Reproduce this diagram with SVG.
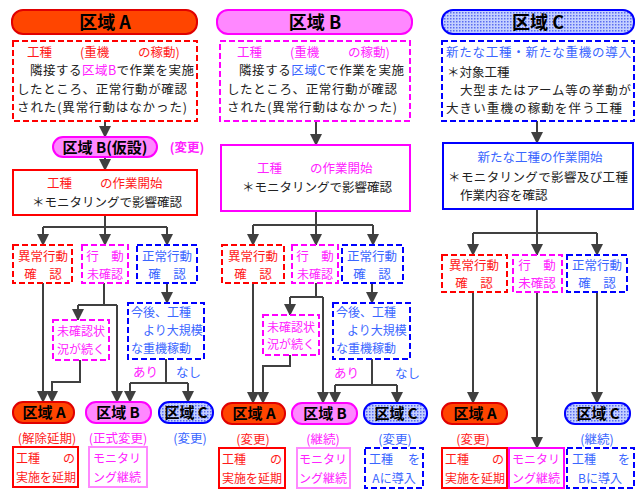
<svg xmlns="http://www.w3.org/2000/svg" width="642" height="494" viewBox="0 0 642 494">
<defs>
<marker id="ah" markerUnits="userSpaceOnUse" markerWidth="12" markerHeight="12" viewBox="0 0 12 12" refX="11" refY="6" orient="auto">
<path d="M0,0 L12,6 L0,12 Z" fill="#404040"/>
</marker>
<pattern id="dots" width="3" height="3" patternUnits="userSpaceOnUse">
<rect width="3" height="3" fill="#c4d0ff"/>
<rect width="1.5" height="1.5" fill="#5a6cf0"/>
</pattern>
<style>
text{font-family:"Noto Sans CJK JP","Noto Sans",sans-serif;font-size:12.5px;fill:#222}
.hd{font-size:18px;font-weight:bold;fill:#000}
.pl{font-size:15px;font-weight:bold;fill:#000}
.sm12{font-size:12px}
.r{fill:#ff1a1a}.m{fill:#ff22ff}.b{fill:#3a66ff}
.c{text-anchor:middle}
.dr{fill:#fff;stroke:#ff0000;stroke-width:2;stroke-dasharray:6 3}
.dm{fill:#fff;stroke:#ff00ff;stroke-width:2;stroke-dasharray:6 3}
.db{fill:#fff;stroke:#0000ff;stroke-width:2;stroke-dasharray:6 3}
.sr{fill:#fff;stroke:#ff0000;stroke-width:2}
.sm{fill:#fff;stroke:#ff00ff;stroke-width:2}
.sml{fill:#fff;stroke:#ff88ff;stroke-width:2}
.sb{fill:#fff;stroke:#0000ff;stroke-width:2}
.pA{fill:#ff4500;stroke:#e00000;stroke-width:2}
.pB{fill:#ff88ff;stroke:#ff00ff;stroke-width:2}
.pC{fill:url(#dots);stroke:#0000ff;stroke-width:2}
.cn path{fill:none;stroke:#404040;stroke-width:2}
.cn path.a{marker-end:url(#ah)}
</style>
</defs>
<rect width="642" height="494" fill="#fff"/>

<!-- connectors -->
<g id="connectors" class="cn">
<path class="a" d="M105,121 V137"/>
<path class="a" d="M105,157 V170"/>
<path d="M105,215 V227 M43,227 H167"/>
<path class="a" d="M43,227 V245"/>
<path class="a" d="M105,227 V245"/>
<path class="a" d="M167,227 V245"/>
<path class="a" d="M43,283 V402"/>
<path d="M104,283 V305 M78,305 H117"/>
<path class="a" d="M78,305 V320"/>
<path class="a" d="M117,305 V402"/>
<path class="a" d="M80,360 V382 H52 V402"/>
<path class="a" d="M167,283 V303"/>
<path d="M166,359 V383 M130,383 H188"/>
<path class="a" d="M130,383 V402"/>
<path class="a" d="M188,383 V402"/>

<path class="a" d="M316,121 V145"/>
<path d="M316,211 V225 M253,225 H373"/>
<path class="a" d="M253,225 V245"/>
<path class="a" d="M316,225 V245"/>
<path class="a" d="M373,225 V245"/>
<path class="a" d="M253,283 V403"/>
<path d="M316,283 V297 M290,297 H323"/>
<path class="a" d="M290,297 V315"/>
<path class="a" d="M323,297 V403"/>
<path class="a" d="M290,355 V366 H263 V403"/>
<path class="a" d="M372,283 V303"/>
<path d="M372,359 V385 M335,385 H397"/>
<path class="a" d="M335,385 V403"/>
<path class="a" d="M397,385 V403"/>

<path class="a" d="M537,121 V143"/>
<path d="M537,209 V233 M473,233 H597"/>
<path class="a" d="M473,233 V255"/>
<path class="a" d="M537,233 V255"/>
<path class="a" d="M597,233 V255"/>
<path class="a" d="M473,292 V403"/>
<path class="a" d="M537,292 V448"/>
<path class="a" d="M597,292 V403"/>
</g>

<!-- Column A -->
<g id="hdrA"><rect class="pA" x="12" y="10" width="185" height="24" rx="11"/><text class="hd c" x="105" y="29">区域 A</text></g>
<g id="descA"><rect class="dr" x="13" y="41" width="184" height="80"/>
<text class="r" y="57"><tspan x="27">工種</tspan><tspan x="80">(重機</tspan><tspan x="138">の稼動)</tspan></text>
<text x="30" y="75" textLength="164">隣接する<tspan class="m">区域B</tspan>で作業を実施</text>
<text x="17" y="94" textLength="170">したところ、正常行動が確認</text>
<text x="17" y="112" textLength="170">された(異常行動はなかった)</text></g>
<g id="kasetsuA"><rect class="pB" x="53" y="137" width="104" height="20" rx="10"/><text class="pl c" x="105" y="153">区域 B(仮設)</text>
<text class="m c" x="187" y="152" style="font-weight:bold">(変更)</text></g>
<g id="startA"><rect class="sr" x="13" y="170" width="184" height="45"/>
<text class="r" y="188"><tspan x="47">工種</tspan><tspan x="100">の作業開始</tspan></text>
<text class="c" x="107" y="207">＊モニタリングで影響確認</text></g>
<g id="abnA"><rect class="dr" x="13" y="245" width="59" height="38"/><text class="r c" x="43" y="261">異常行動</text><text class="r c" x="43" y="279">確　認</text></g>
<g id="unkA"><rect class="dm" x="82" y="245" width="46" height="38"/><text class="m c" x="105" y="261">行　動</text><text class="m c sm12" x="105" y="279">未確認</text></g>
<g id="norA"><rect class="db" x="137" y="245" width="60" height="38"/><text class="b c" x="167" y="261">正常行動</text><text class="b c" x="167" y="279">確　認</text></g>
<g id="contA"><rect class="dm" x="53" y="320" width="56" height="40"/><text class="m c sm12" x="81" y="336">未確認状</text><text class="m c sm12" x="81" y="354">況が続く</text></g>
<g id="futA"><rect class="db" x="128" y="303" width="76" height="56"/>
<text class="b sm12" x="131" y="317">今後、工種</text>
<text class="b sm12" x="143" y="335">より大規模</text>
<text class="b sm12" x="131" y="353">な重機稼動</text></g>
<text class="m" x="133" y="377">あり</text>
<text class="b" x="176" y="377">なし</text>
<g id="zA_A"><rect class="pA" x="13" y="402" width="61" height="21" rx="10"/><text class="pl c" x="44" y="418">区域 A</text></g>
<g id="zA_B"><rect class="pB" x="86" y="402" width="65" height="21" rx="10"/><text class="pl c" x="118" y="418">区域 B</text></g>
<g id="zA_C"><rect class="pC" x="159" y="402" width="54" height="21" rx="10"/><text class="pl c" x="186" y="418">区域 C</text></g>
<text class="r c" x="47" y="443">(解除延期)</text>
<text class="m c" x="118" y="443">(正式変更)</text>
<text class="b c" x="190" y="443">(変更)</text>
<g id="resA1"><rect class="sr" x="13" y="447" width="65" height="40"/><text class="r sm12" x="16" y="463">工種</text><text class="r sm12" x="75" y="463" text-anchor="end">の</text><text class="r sm12" x="16" y="482">実施を延期</text></g>
<g id="resA2"><rect class="sml" x="89" y="447" width="58" height="40"/><text class="m sm12" x="93" y="463">モニタリ</text><text class="m sm12" x="93" y="482">ング継続</text></g>

<!-- Column B -->
<g id="hdrB"><rect class="pB" x="217" y="10" width="195" height="24" rx="11"/><text class="hd c" x="315" y="29">区域 B</text></g>
<g id="descB"><rect class="dm" x="220" y="41" width="190" height="80"/>
<text class="m" y="57"><tspan x="237">工種</tspan><tspan x="290">(重機</tspan><tspan x="348">の稼動)</tspan></text>
<text x="239" y="75" textLength="165">隣接する<tspan class="b">区域C</tspan>で作業を実施</text>
<text x="227" y="94" textLength="170">したところ、正常行動が確認</text>
<text x="227" y="112" textLength="170">された(異常行動はなかった)</text></g>
<g id="startB"><rect class="sm" x="221" y="145" width="189" height="66"/>
<text class="m" y="173"><tspan x="257">工種</tspan><tspan x="310">の作業開始</tspan></text>
<text class="c" x="317" y="192">＊モニタリングで影響確認</text></g>
<g id="abnB"><rect class="dr" x="222" y="245" width="62" height="38"/><text class="r c" x="253" y="261">異常行動</text><text class="r c" x="253" y="279">確　認</text></g>
<g id="unkB"><rect class="dm" x="292" y="245" width="46" height="38"/><text class="m c" x="315" y="261">行　動</text><text class="m c sm12" x="315" y="279">未確認</text></g>
<g id="norB"><rect class="db" x="342" y="245" width="61" height="38"/><text class="b c" x="372" y="261">正常行動</text><text class="b c" x="372" y="279">確　認</text></g>
<g id="contB"><rect class="dm" x="263" y="315" width="56" height="40"/><text class="m c sm12" x="291" y="332">未確認状</text><text class="m c sm12" x="291" y="349">況が続く</text></g>
<g id="futB"><rect class="db" x="333" y="303" width="77" height="56"/>
<text class="b sm12" x="336" y="317">今後、工種</text>
<text class="b sm12" x="347" y="335">より大規模</text>
<text class="b sm12" x="336" y="353">な重機稼動</text></g>
<text class="m" x="334" y="378">あり</text>
<text class="b" x="395" y="378">なし</text>
<g id="zB_A"><rect class="pA" x="222" y="403" width="63" height="21" rx="10"/><text class="pl c" x="254" y="419">区域 A</text></g>
<g id="zB_B"><rect class="pB" x="292" y="403" width="65" height="21" rx="10"/><text class="pl c" x="325" y="419">区域 B</text></g>
<g id="zB_C"><rect class="pC" x="364" y="403" width="63" height="21" rx="10"/><text class="pl c" x="396" y="419">区域 C</text></g>
<text class="r c" x="253" y="444">(変更)</text>
<text class="m c" x="323" y="444">(継続)</text>
<text class="b c" x="395" y="444">(変更)</text>
<g id="resB1"><rect class="sr" x="219" y="448" width="66" height="40"/><text class="r sm12" x="222" y="464">工種</text><text class="r sm12" x="282" y="464" text-anchor="end">の</text><text class="r sm12" x="222" y="483">実施を延期</text></g>
<g id="resB2"><rect class="sml" x="297" y="448" width="53" height="40"/><text class="m sm12" x="299" y="464">モニタリ</text><text class="m sm12" x="299" y="483">ング継続</text></g>
<g id="resB3"><rect class="db" x="365" y="448" width="58" height="40"/><text class="b sm12" x="369" y="464">工種</text><text class="b sm12" x="420" y="464" text-anchor="end">を</text><text class="b c sm12" x="394" y="483">Aに導入</text></g>

<!-- Column C -->
<g id="hdrC"><rect class="pC" x="442" y="10" width="192" height="24" rx="11"/><text class="hd c" x="538" y="29">区域 C</text></g>
<g id="descC"><rect class="db" x="442" y="41" width="192" height="80"/>
<text class="b" x="446" y="57" textLength="185">新たな工種・新たな重機の導入</text>
<text x="447" y="77">＊対象工種</text>
<text x="460" y="95" textLength="171">大型またはアーム等の挙動が</text>
<text x="446" y="113" textLength="176">大きい重機の稼動を伴う工種</text></g>
<g id="startC"><rect class="sb" x="443" y="143" width="190" height="66"/>
<text class="b c" x="540" y="162">新たな工種の作業開始</text>
<text x="448" y="182" textLength="180">＊モニタリングで影響及び工種</text>
<text x="460" y="200">作業内容を確認</text></g>
<g id="abnC"><rect class="dr" x="442" y="255" width="65" height="37"/><text class="r c" x="474" y="270">異常行動</text><text class="r c" x="474" y="288">確　認</text></g>
<g id="unkC"><rect class="dm" x="513" y="255" width="49" height="37"/><text class="m c" x="537" y="270">行　動</text><text class="m c" x="537" y="288">未確認</text></g>
<g id="norC"><rect class="db" x="567" y="255" width="60" height="37"/><text class="b c" x="597" y="270">正常行動</text><text class="b c" x="597" y="288">確　認</text></g>
<g id="zC_A"><rect class="pA" x="442" y="403" width="65" height="21" rx="10"/><text class="pl c" x="475" y="419">区域 A</text></g>
<g id="zC_C"><rect class="pC" x="565" y="403" width="65" height="21" rx="10"/><text class="pl c" x="598" y="419">区域 C</text></g>
<text class="r c" x="473" y="444">(変更)</text>
<text class="b c" x="597" y="444">(継続)</text>
<g id="resC1"><rect class="sr" x="442" y="448" width="65" height="40"/><text class="r sm12" x="445" y="464">工種</text><text class="r sm12" x="504" y="464" text-anchor="end">の</text><text class="r sm12" x="445" y="483">実施を延期</text></g>
<g id="resC2"><rect class="sm" x="509" y="448" width="55" height="40"/><text class="m sm12" x="512" y="464">モニタリ</text><text class="m sm12" x="512" y="483">ング継続</text></g>
<g id="resC3"><rect class="db" x="567" y="448" width="67" height="40"/><text class="b sm12" x="572" y="464">工種</text><text class="b sm12" x="630" y="464" text-anchor="end">を</text><text class="b c sm12" x="600" y="483">Bに導入</text></g>
</svg>
